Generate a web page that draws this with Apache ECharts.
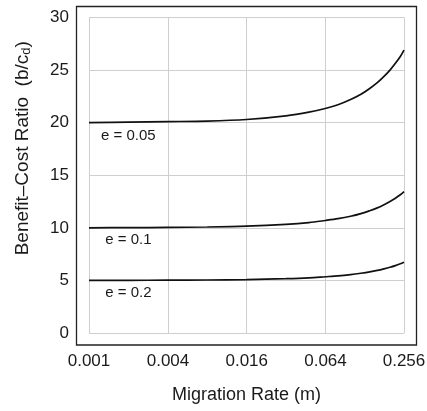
<!DOCTYPE html>
<html>
<head>
<meta charset="utf-8">
<script src="https://cdn.jsdelivr.net/npm/echarts@6/dist/echarts.min.js"></script>
<style>
html, body { margin: 0; padding: 0; background: #fff; }
#main { width: 427px; height: 411px; }
</style>
</head>
<body>
<div id="main"></div>
<script>
// migration rate m (x, log scale) and benefit-cost ratio
var migration = [0.001, 0.002, 0.004, 0.008, 0.016, 0.032, 0.048, 0.064, 0.08, 0.1, 0.12, 0.14, 0.16, 0.18, 0.2, 0.22, 0.24, 0.256];
var ratioE005 = [20.0, 20.05, 20.1, 20.15, 20.3, 20.65, 21.0, 21.35, 21.7, 22.2, 22.7, 23.25, 23.8, 24.4, 25.0, 25.65, 26.3, 26.9];
var ratioE01  = [10.0, 10.02, 10.04, 10.08, 10.16, 10.33, 10.5, 10.7, 10.87, 11.1, 11.35, 11.63, 11.9, 12.2, 12.5, 12.82, 13.15, 13.45];
var ratioE02  = [5.0, 5.01, 5.02, 5.04, 5.08, 5.17, 5.25, 5.35, 5.43, 5.55, 5.68, 5.81, 5.95, 6.1, 6.25, 6.41, 6.58, 6.72];
var xTicks = [0.001, 0.004, 0.016, 0.064, 0.256];
var curveNames = ['e = 0.05', 'e = 0.1', 'e = 0.2'];
var labelAt = [[0.002, 18.75], [0.002, 8.85], [0.002, 3.85]];

var chart = echarts.init(document.getElementById('main'));

function pairs(ys) {
	var out = [];
	for (var i = 0; i < migration.length; i++) {
		out.push([migration[i], ys[i]]);
	}
	return out;
}

var curves = [ratioE005, ratioE01, ratioE02];
var series = [];
for (var k = 0; k < curves.length; k++) {
	series.push({
		name: curveNames[k],
		type: 'line',
		data: pairs(curves[k]),
		smooth: 0.3,
		showSymbol: false,
		lineStyle: { color: '#111', width: 1.7 },
		markPoint: {
			symbol: 'circle',
			symbolSize: 1,
			itemStyle: { color: 'rgba(0,0,0,0)' },
			label: {
				show: true,
				position: 'inside',
				formatter: curveNames[k],
				color: '#1a1a1a',
				fontSize: 15,
				fontFamily: 'Liberation Sans, Arial, sans-serif'
			},
			data: [{ coord: labelAt[k] }]
		}
	});
}

chart.setOption({
	animation: false,
	textStyle: { fontFamily: 'Liberation Sans, Arial, sans-serif' },
	grid: {
		left: 89,
		right: 23,
		top: 17.5,
		bottom: 78,
		containLabel: false,
		outerBoundsMode: 'none'
	},
	graphic: [{
		type: 'rect',
		shape: { x: 76.5, y: 6.5, width: 340, height: 338.5 },
		style: { fill: 'none', stroke: '#222', lineWidth: 1.3 },
		silent: true,
		z: 0
	}],
	xAxis: {
		type: 'log',
		logBase: 4,
		min: xTicks[0],
		max: xTicks[xTicks.length - 1],
		interval: 1,
		name: 'Migration Rate (m)',
		nameLocation: 'middle',
		nameGap: 53,
		nameTextStyle: { fontSize: 18, color: '#1a1a1a' },
		axisLine: { show: false },
		axisTick: { show: false },
		axisLabel: {
			fontSize: 17,
			color: '#1a1a1a',
			margin: 20,
			formatter: function (v) { return v.toFixed(3); }
		},
		splitLine: { show: true, lineStyle: { color: '#cfcfcf', width: 1 } }
	},
	yAxis: {
		type: 'value',
		min: 0,
		max: 30,
		interval: 5,
		name: '{a|Benefit\u2013Cost Ratio  (b/c}{s|d}{a|)}',
		nameLocation: 'middle',
		nameRotate: 90,
		nameGap: 56,
		nameTextStyle: {
			padding: [0, 0, 0, 54],
			rich: {
				a: { fontSize: 19, color: '#1a1a1a' },
				s: { fontSize: 13, color: '#1a1a1a', padding: [8, 0, 0, 0] }
			}
		},
		axisLine: { show: false },
		axisTick: { show: false },
		axisLabel: { fontSize: 17, color: '#1a1a1a', margin: 20 },
		splitLine: { show: true, lineStyle: { color: '#cfcfcf', width: 1 } }
	},
	series: series
});
</script>
</body>
</html>
